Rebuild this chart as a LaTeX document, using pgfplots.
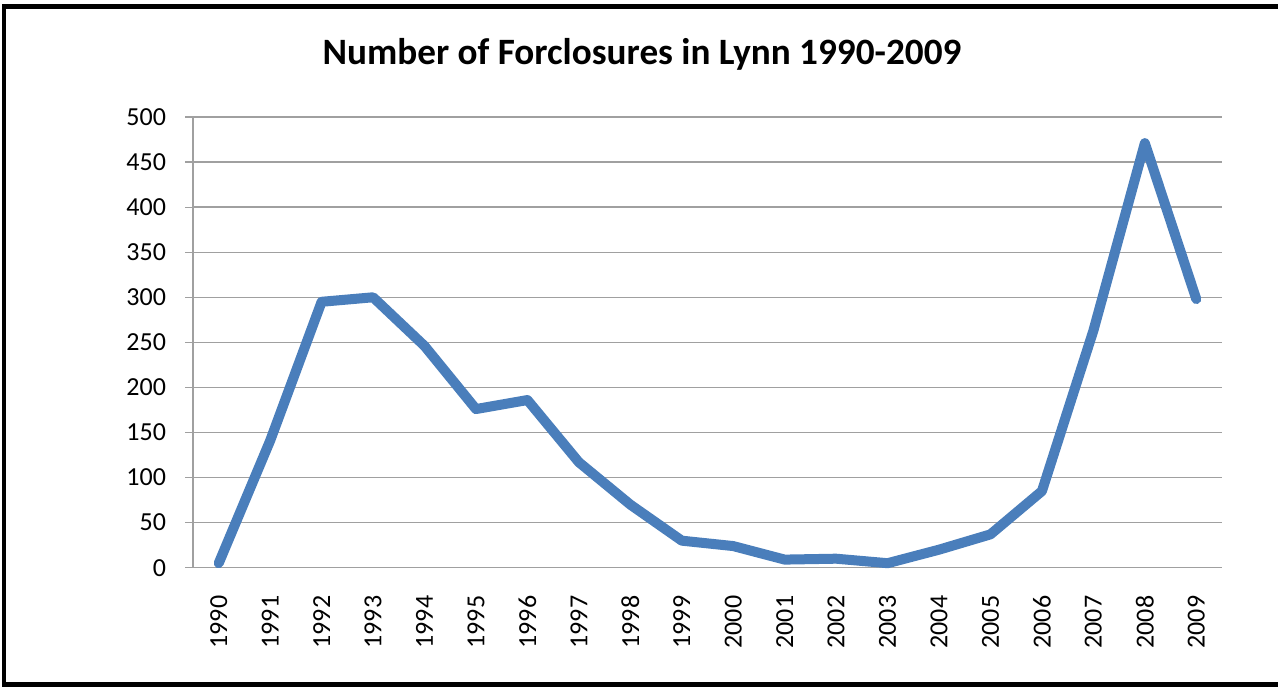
\documentclass[border=0pt]{standalone}
\usepackage{fontspec}
\setmainfont{Carlito}
\usepackage{pgfplots}
\pgfplotsset{compat=1.18}
\definecolor{lineblue}{HTML}{4A7EBB}
\definecolor{gridgray}{HTML}{A0A0A0}
\begin{document}
\begin{tikzpicture}
\useasboundingbox (0,0) rectangle (639pt,343.5pt);
\draw[line width=2.3pt,black] (2pt,1.2pt) rectangle (660pt,340.3pt);
\node[font=\fontsize{18.6}{21}\selectfont\bfseries] at (321pt,316.5pt) {Number of Forclosures in Lynn 1990-2009};
\begin{axis}[
  at={(96.5pt,59.65pt)}, anchor=south west,
  scale only axis, width=514.5pt, height=225.35pt,
  xmin=-0.5, xmax=19.5, ymin=0, ymax=500,
  ytick={0,50,...,500},
  xtick={0,...,19},
  xticklabels={1990,1991,1992,1993,1994,1995,1996,1997,1998,1999,2000,2001,2002,2003,2004,2005,2006,2007,2008,2009},
  x tick style={draw=none},
  extra x ticks={-0.5,0.5,...,19.5},
  extra x tick labels={},
  extra x tick style={grid=none, tick style={draw=gridgray, line width=0.6pt}},
  ymajorgrids,
  grid style={gridgray, line width=0.7pt},
  axis x line*=bottom, axis y line*=left,
  axis line style={gridgray, line width=0.7pt},
  tick align=outside, major tick length=4pt,
  y tick style={gridgray, line width=0.6pt},
  ticklabel style={font=\fontsize{13}{15}\selectfont},
  /pgf/number format/assume math mode=true,
  xticklabel style={rotate=90, anchor=east, xshift=-6.5pt},
  yticklabel style={xshift=-6pt},
  clip=false,
]
\addplot[lineblue, line width=5pt, line cap=round, line join=round] coordinates {
(0,5) (1,141) (2,295) (3,300) (4,246) (5,176) (6,186) (7,117) (8,70) (9,30)
(10,24) (11,9) (12,10) (13,5) (14,20) (15,37) (16,85) (17,263) (18,471) (19,298)
};
\end{axis}
\end{tikzpicture}
\end{document}
